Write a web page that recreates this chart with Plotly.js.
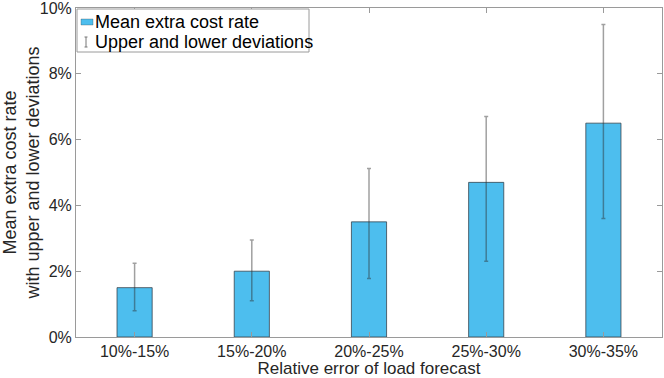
<!DOCTYPE html>
<html>
<head>
<meta charset="utf-8">
<script src="https://cdn.plot.ly/plotly-3.0.1.min.js"></script>
<style>
  html, body { margin: 0; padding: 0; background: #fff; }
  #chart { width: 664px; height: 378px; }
</style>
</head>
<body>
<div id="chart"></div>
<script>
// values (percent)
const categories = ['10%-15%', '15%-20%', '20%-25%', '25%-30%', '30%-35%'];
const meanRate = [1.5, 2.0, 3.5, 4.7, 6.5];
const upperDev = [2.24, 2.95, 5.12, 6.7, 9.5];
const lowerDev = [0.8, 1.1, 1.78, 2.3, 3.6];
const yTicks = [0, 2, 4, 6, 8, 10];
const legendNames = ['Mean extra cost rate', 'Upper and lower deviations'];

const txtColor = '#262626';
const lineColor = '#9a9a9a';
const barColor = '#4DBEEE';
const errColor = 'rgba(45,45,45,0.45)';
const fontFam = '"Liberation Sans", Arial, Helvetica, sans-serif';

const bars = {
  type: 'bar',
  name: legendNames[0],
  x: categories,
  y: meanRate,
  width: 0.3,
  showlegend: false,
  marker: { color: barColor, line: { color: 'rgba(50,60,70,0.75)', width: 1 } },
  error_y: {
    type: 'data',
    symmetric: false,
    array: upperDev.map((u, i) => u - meanRate[i]),
    arrayminus: meanRate.map((m, i) => m - lowerDev[i]),
    color: errColor,
    thickness: 1.5,
    width: 2
  },
  hoverinfo: 'x+y'
};

// MATLAB-style legend box, drawn in paper coords (plot area 76..662 x 8..337 px)
const px = v => (v - 76) / 586;
const py = v => (337 - v) / 329;

const legendShapes = [
  { type: 'rect', xref: 'paper', yref: 'paper', x0: px(77), x1: px(309), y0: py(52), y1: py(9),
    fillcolor: '#fff', line: { color: lineColor, width: 1 } },
  { type: 'rect', xref: 'paper', yref: 'paper', x0: px(81), x1: px(93), y0: py(25), y1: py(19),
    fillcolor: barColor, line: { color: 'rgba(50,60,70,0.6)', width: 0.5 } },
  { type: 'line', xref: 'paper', yref: 'paper', x0: px(86), x1: px(86), y0: py(47), y1: py(37),
    line: { color: '#777', width: 1 } },
  { type: 'line', xref: 'paper', yref: 'paper', x0: px(84.5), x1: px(87.5), y0: py(37), y1: py(37),
    line: { color: '#777', width: 1 } },
  { type: 'line', xref: 'paper', yref: 'paper', x0: px(84.5), x1: px(87.5), y0: py(47), y1: py(47),
    line: { color: '#777', width: 1 } }
];

const legendText = legendNames.map((t, i) => ({
  xref: 'paper', yref: 'paper', x: px(93), y: py(i === 0 ? 22 : 42),
  xanchor: 'left', yanchor: 'middle', showarrow: false,
  text: t, font: { family: fontFam, size: 18, color: '#000' }
}));

const layout = {
  width: 664,
  height: 378,
  margin: { l: 76, r: 2, t: 8, b: 41 },
  paper_bgcolor: '#fff',
  plot_bgcolor: '#fff',
  font: { family: fontFam, size: 16, color: txtColor },
  showlegend: false,
  shapes: legendShapes,
  annotations: legendText,
  xaxis: {
    type: 'category',
    range: [-0.5, 4.5],
    showline: true, linecolor: lineColor, linewidth: 1, mirror: 'ticks',
    ticks: 'inside', ticklen: 5, tickcolor: lineColor,
    showgrid: false, zeroline: false,
    tickfont: { size: 16, color: txtColor },
    title: { text: 'Relative error of load forecast', font: { size: 17, color: txtColor }, standoff: 6 }
  },
  yaxis: {
    range: [0, 10],
    tickmode: 'array',
    tickvals: yTicks,
    ticktext: yTicks.map(v => v + '%'),
    ticklabeloverflow: 'allow',
    showline: true, linecolor: lineColor, linewidth: 1, mirror: 'ticks',
    ticks: 'inside', ticklen: 5, tickcolor: lineColor,
    showgrid: false, zeroline: false,
    tickfont: { size: 16, color: txtColor },
    title: { text: 'Mean extra cost rate<br>with upper and lower deviations', font: { size: 18, color: txtColor }, standoff: 2 }
  }
};

Plotly.newPlot('chart', [bars], layout, { displayModeBar: false, responsive: false });
</script>
</body>
</html>
